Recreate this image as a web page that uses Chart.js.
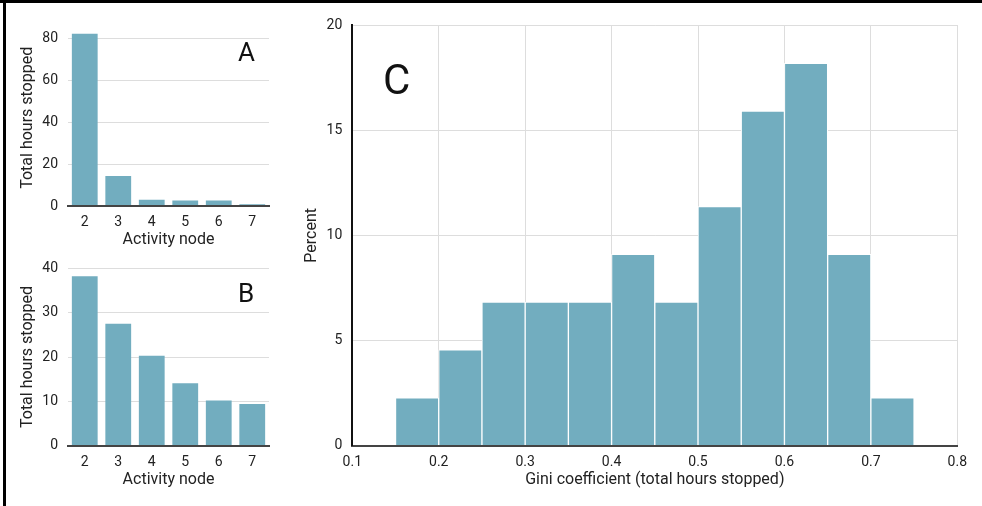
<!DOCTYPE html>
<html>
<head>
<meta charset="utf-8">
<script src="https://cdn.jsdelivr.net/npm/chart.js@4.4.1/dist/chart.umd.min.js"></script>
<style>
  body { margin: 0; background: #fff; }
  #frame {
    position: relative; width: 982px; height: 506px; overflow: hidden;
    border-top: 3px solid #000; box-sizing: border-box;
  }
  #frame::before {
    content: ""; position: absolute; left: 3px; top: 0; width: 3px; height: 506px; background: #000;
  }
  canvas { position: absolute; }
  .tag { position: absolute; font-family: Roboto, sans-serif; line-height: 1; color: #111; }
</style>
</head>
<body>
<div id="frame">
  <canvas id="chartA" width="280" height="247" style="left:5px;top:0px"></canvas>
  <canvas id="chartB" width="280" height="256" style="left:5px;top:247px"></canvas>
  <canvas id="chartC" width="692" height="503" style="left:290px;top:0px"></canvas>
  <div class="tag" style="left:238px;top:36px;font-size:26px">A</div>
  <div class="tag" style="left:238px;top:277px;font-size:26px">B</div>
  <div class="tag" style="left:383px;top:56px;font-size:42px">C</div>
</div>
<script>
// ---- data ----
const nodes = ["2", "3", "4", "5", "6", "7"];
const hoursA = [82, 14.3, 3.0, 2.6, 2.6, 0.8];
const hoursB = [38.2, 27.5, 20.3, 14.1, 10.2, 9.4];

// Gini histogram: bin centres (width 0.05) and percent of nodes
const giniBins = [0.175, 0.225, 0.275, 0.325, 0.375, 0.425, 0.475, 0.525, 0.575, 0.625, 0.675, 0.725];
const giniPct = [2.27, 4.55, 6.82, 6.82, 6.82, 9.09, 6.82, 11.36, 15.91, 18.18, 9.09, 2.27];

const BAR = "#72adbf";
const GRID = "#dddddd";
const AXIS = "#444444";
const TEXT = "#222222";

Chart.defaults.font.family = "Roboto";
Chart.defaults.color = TEXT;
Chart.defaults.animation = false;

function smallPanel(id, values, maxY, step, padTop, padBottom) {
  new Chart(document.getElementById(id), {
    type: "bar",
    data: {
      labels: nodes,
      datasets: [{
        data: values,
        backgroundColor: BAR,
        borderWidth: 0,
        barPercentage: 0.77,
        categoryPercentage: 1
      }]
    },
    options: {
      responsive: false,
      layout: { padding: { left: 0, right: 16, top: padTop, bottom: padBottom } },
      plugins: { legend: { display: false }, tooltip: { enabled: false } },
      scales: {
        x: {
          grid: { display: false, drawTicks: false },
          border: { color: AXIS, width: 2, z: 1 },
          ticks: { font: { size: 14 }, padding: 8, color: TEXT },
          title: { display: true, text: "Activity node", font: { size: 16 }, padding: { top: 0, bottom: 0 }, color: TEXT },
          afterFit: (s) => { s.height = 44; }
        },
        y: {
          min: 0,
          max: maxY,
          grid: { color: GRID, drawTicks: false },
          border: { display: false },
          ticks: { stepSize: step, includeBounds: false, font: { size: 14 }, padding: 10, color: TEXT },
          title: { display: true, text: "Total hours stopped", font: { size: 16 }, padding: { top: 13.4, bottom: 0 }, color: TEXT },
          afterFit: (s) => { s.width = 63; }
        }
      }
    }
  });
}

smallPanel("chartA", hoursA, 84, 20, 26.6, 0);
smallPanel("chartB", hoursB, 40, 10, 16, 16.4);

new Chart(document.getElementById("chartC"), {
  type: "bar",
  data: {
    datasets: [{
      data: giniBins.map((x, i) => ({ x: x, y: giniPct[i] })),
      backgroundColor: BAR,
      borderColor: "#ffffff",
      borderWidth: 1,
      barPercentage: 1,
      categoryPercentage: 1
    }]
  },
  options: {
    responsive: false,
    layout: { padding: { left: 0, right: 24.7, top: 22, bottom: 16.4 } },
    plugins: { legend: { display: false }, tooltip: { enabled: false } },
    scales: {
      x: {
        type: "linear",
        min: 0.1,
        max: 0.8,
        offset: false,
        grid: { color: GRID, drawTicks: false, offset: false },
        border: { color: AXIS, width: 2, z: 1 },
        ticks: { stepSize: 0.1, font: { size: 14 }, padding: 8, color: TEXT },
        title: { display: true, text: "Gini coefficient (total hours stopped)", font: { size: 16 }, padding: { top: 0, bottom: 0 }, color: TEXT },
        afterFit: (s) => { s.height = 44; }
      },
      y: {
        min: 0,
        max: 20,
        grid: { color: GRID, drawTicks: false },
        border: { color: "#111111", width: 2, z: 1 },
        ticks: { stepSize: 5, font: { size: 14 }, padding: 10, color: TEXT },
        title: { display: true, text: "Percent", font: { size: 16 }, padding: { top: 12.4, bottom: 0 }, color: TEXT },
        afterFit: (s) => { s.width = 62.3; }
      }
    }
  }
});
</script>
</body>
</html>
